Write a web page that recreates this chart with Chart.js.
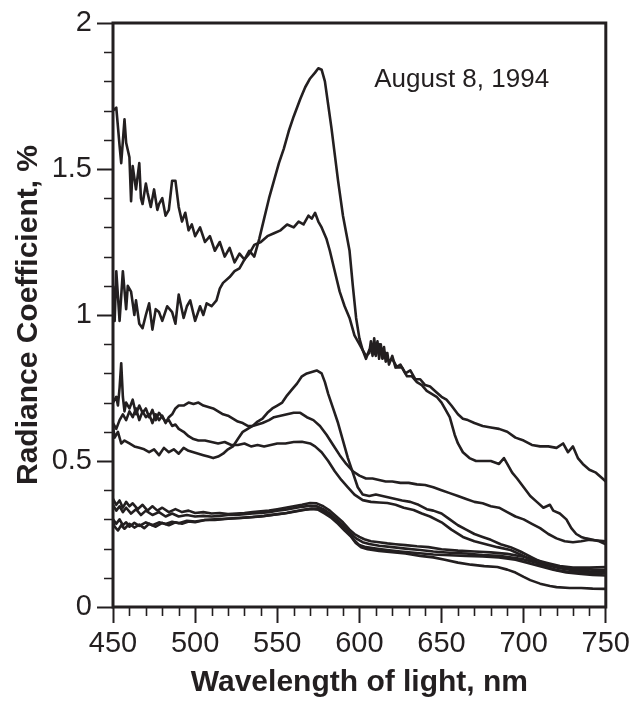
<!DOCTYPE html>
<html>
<head>
<meta charset="utf-8">
<script src="https://cdn.jsdelivr.net/npm/chart.js@4/dist/chart.umd.min.js"></script>
<style>
html,body{margin:0;padding:0;background:#fff;}
#wrap{width:634px;height:704px;position:relative;}
</style>
</head>
<body>
<div id="wrap"><canvas id="c" width="634" height="704"></canvas></div>
<script>
// ---- axis ticks ----
const xTickValues = [450, 500, 550, 600, 650, 700, 750];
const yTickLabels = ['0', '0.5', '1', '1.5', '2'];
const annotationText = 'August 8, 1994';

// ---- series (wavelength nm, radiance coefficient %) ----
const wlA = [450,452,454,455,457,458,460,461,462,464,466,467,468,470,471,473,475,477,478,480,482,484,486,488,490,492,494,496,498,500,503,506,509,512,515,518,521,524,527,530,533,536,539,542,545,548,551,554,557,560,564,567,570,573,575,577,579,581,583,585,587,590,592,594,596,598,600,602,604,606,607,608,609,610,611,612,613,614,615,616,617,618,620,622,625,628,631,634,637,640,643,646,650,653,656,660,663,666,670,675,680,685,690,695,700,705,710,715,720,724,727,730,733,736,740,744,748,750];
const valA = [1.70,1.71,1.58,1.52,1.67,1.59,1.54,1.39,1.51,1.43,1.52,1.40,1.38,1.45,1.42,1.37,1.43,1.36,1.38,1.40,1.34,1.36,1.46,1.46,1.37,1.32,1.35,1.29,1.31,1.27,1.30,1.25,1.27,1.22,1.25,1.20,1.23,1.18,1.21,1.19,1.22,1.20,1.26,1.33,1.40,1.46,1.52,1.57,1.63,1.68,1.74,1.78,1.81,1.83,1.845,1.84,1.80,1.72,1.64,1.55,1.46,1.34,1.28,1.22,1.10,0.99,0.92,0.88,0.86,0.87,0.91,0.86,0.92,0.87,0.91,0.85,0.90,0.86,0.89,0.84,0.87,0.83,0.86,0.82,0.83,0.80,0.81,0.78,0.78,0.76,0.755,0.74,0.72,0.71,0.69,0.66,0.645,0.64,0.63,0.62,0.615,0.61,0.60,0.58,0.57,0.555,0.55,0.55,0.545,0.56,0.53,0.55,0.51,0.49,0.47,0.46,0.44,0.43];

const wlB = [450,451,452,454,456,458,459,461,463,464,466,468,470,472,474,476,478,480,483,486,488,490,493,495,497,500,503,505,507,510,513,515,517,521,524,527,530,533,536,540,544,548,552,556,560,563,566,569,571,573,575,577,580,582,585,588,591,594,597,600,602,604,606,608,610,612,614,616,618,620,623,626,629,632,635,638,641,644,647,650,652,655,658,660,663,667,671,675,680,685,688,690,693,696,700,704,708,712,716,718,722,726,729,732,735,738,742,746,750];
const valB = [1.10,0.98,1.15,0.98,1.15,1.02,1.10,1.08,1.00,1.05,0.97,0.955,1.00,1.04,0.95,1.02,1.01,0.98,1.03,1.01,0.97,1.07,0.99,1.03,1.05,0.98,1.03,1.00,1.04,1.03,1.05,1.09,1.11,1.13,1.15,1.16,1.19,1.21,1.24,1.25,1.27,1.28,1.29,1.31,1.30,1.32,1.31,1.34,1.33,1.35,1.32,1.30,1.26,1.22,1.15,1.08,1.03,0.99,0.93,0.90,0.88,0.85,0.88,0.89,0.86,0.90,0.85,0.87,0.84,0.85,0.82,0.82,0.79,0.79,0.77,0.76,0.74,0.73,0.72,0.70,0.68,0.65,0.59,0.56,0.53,0.51,0.50,0.50,0.50,0.49,0.51,0.49,0.46,0.44,0.41,0.38,0.36,0.34,0.35,0.33,0.32,0.30,0.27,0.25,0.24,0.235,0.23,0.225,0.215];

const wlC1 = [450,451,453,455,457,460,463,466,469,472,475,478,481,484,487,490,493,496,499,502,505,508,511,514,517,520,523,526,529,532,535,538,541,544,547,550,553,556,559,562,565,568,571,574,577,579,581,584,587,590,593,596,599,602,606,610,614,618,622,626,631,636,641,645,650,655,660,665,670,675,680,686,692,698,705,712,720,728,735,742,750];
const valC1 = [0.62,0.58,0.60,0.56,0.57,0.56,0.55,0.545,0.54,0.53,0.54,0.52,0.545,0.53,0.54,0.525,0.545,0.535,0.53,0.525,0.52,0.515,0.51,0.515,0.525,0.54,0.55,0.575,0.60,0.61,0.62,0.635,0.645,0.665,0.68,0.69,0.70,0.725,0.745,0.765,0.79,0.80,0.805,0.81,0.80,0.77,0.73,0.68,0.63,0.57,0.51,0.46,0.41,0.385,0.38,0.385,0.38,0.375,0.37,0.365,0.36,0.35,0.335,0.33,0.32,0.30,0.28,0.265,0.25,0.24,0.23,0.215,0.205,0.19,0.17,0.15,0.137,0.13,0.13,0.128,0.127];

const wlC2 = [450,452,454,456,458,460,462,464,466,468,470,472,474,476,478,480,482,484,486,488,490,493,496,499,502,505,508,511,514,517,520,523,526,529,532,535,538,541,545,548,552,556,560,564,568,572,576,580,584,588,592,596,600,604,608,612,616,620,625,630,635,640,645,650,655,660,665,670,675,680,685,690,695,700,705,710,715,720,725,730,735,740,745,750];
const valC2 = [0.63,0.61,0.64,0.66,0.64,0.67,0.65,0.68,0.64,0.67,0.65,0.66,0.63,0.66,0.64,0.655,0.63,0.65,0.66,0.68,0.69,0.69,0.70,0.695,0.70,0.69,0.685,0.68,0.67,0.66,0.655,0.645,0.635,0.63,0.62,0.62,0.625,0.63,0.64,0.65,0.655,0.66,0.665,0.665,0.65,0.64,0.62,0.59,0.555,0.52,0.49,0.465,0.45,0.44,0.44,0.435,0.43,0.43,0.425,0.425,0.42,0.418,0.41,0.40,0.39,0.38,0.37,0.36,0.355,0.345,0.34,0.325,0.31,0.30,0.285,0.27,0.25,0.235,0.225,0.222,0.225,0.23,0.228,0.225];

const wlC3 = [450,452,453,454,455,456,457,458,460,462,464,466,468,470,472,474,476,478,480,482,484,486,488,490,493,496,499,502,506,510,514,518,522,526,530,534,538,542,546,550,555,560,565,570,573,577,581,585,589,593,597,602,607,612,617,622,627,633,638,643,650,656,663,670,677,684,692,698,705,712,720,728,735,742,750];
const valC3 = [0.70,0.72,0.69,0.75,0.835,0.72,0.67,0.70,0.68,0.71,0.66,0.69,0.665,0.68,0.65,0.675,0.64,0.665,0.65,0.635,0.64,0.62,0.625,0.61,0.60,0.585,0.575,0.57,0.57,0.565,0.56,0.565,0.555,0.555,0.56,0.55,0.555,0.55,0.555,0.56,0.56,0.565,0.566,0.56,0.55,0.53,0.50,0.465,0.435,0.41,0.385,0.366,0.36,0.358,0.356,0.35,0.34,0.332,0.32,0.31,0.29,0.265,0.24,0.225,0.215,0.205,0.195,0.18,0.16,0.14,0.127,0.12,0.118,0.117,0.116];

const wlD1 = [450,452,454,456,458,460,462,465,468,471,474,477,480,484,488,492,496,500,505,510,515,520,525,530,535,540,545,550,555,560,565,570,574,578,582,586,590,594,597,600,603,607,612,617,622,628,635,642,650,660,670,680,690,700,708,715,722,730,740,750];
const valD1 = [0.37,0.35,0.365,0.34,0.36,0.345,0.355,0.335,0.35,0.33,0.345,0.33,0.34,0.325,0.335,0.325,0.33,0.322,0.325,0.32,0.322,0.318,0.32,0.322,0.325,0.328,0.33,0.335,0.34,0.345,0.35,0.356,0.355,0.345,0.33,0.31,0.29,0.265,0.25,0.24,0.232,0.225,0.222,0.218,0.215,0.212,0.208,0.205,0.198,0.193,0.19,0.187,0.182,0.172,0.16,0.15,0.14,0.135,0.135,0.137];

const wlD2 = [450,452,454,456,458,461,464,467,470,474,478,482,486,490,495,500,505,510,515,520,525,530,535,540,545,550,555,560,565,570,574,578,582,586,590,594,598,602,606,612,620,628,637,645,655,665,675,685,695,700,708,715,722,730,740,750];
const valD2 = [0.35,0.33,0.345,0.325,0.34,0.32,0.335,0.315,0.33,0.315,0.325,0.31,0.32,0.31,0.315,0.31,0.312,0.31,0.312,0.315,0.315,0.318,0.32,0.322,0.325,0.33,0.333,0.338,0.343,0.347,0.345,0.335,0.32,0.30,0.28,0.255,0.235,0.222,0.216,0.21,0.205,0.20,0.195,0.19,0.186,0.183,0.178,0.175,0.168,0.163,0.152,0.142,0.133,0.126,0.122,0.12];

const wlD3 = [450,451,453,455,457,460,463,466,469,472,476,480,484,488,492,496,500,506,512,518,526,532,540,547,554,560,565,570,574,578,582,586,590,594,597,600,604,610,617,625,635,645,655,665,675,685,695,702,710,718,726,735,742,750];
const valD3 = [0.29,0.275,0.262,0.28,0.268,0.285,0.272,0.282,0.27,0.285,0.275,0.288,0.28,0.29,0.285,0.293,0.29,0.298,0.30,0.302,0.305,0.307,0.31,0.315,0.32,0.327,0.332,0.336,0.337,0.33,0.315,0.295,0.275,0.25,0.228,0.212,0.205,0.20,0.195,0.19,0.185,0.18,0.177,0.175,0.173,0.17,0.162,0.152,0.14,0.128,0.118,0.113,0.11,0.108];

const wlD4 = [450,452,454,456,458,460,463,466,470,474,478,482,486,490,495,500,506,512,520,528,535,542,550,556,562,567,571,575,579,583,587,591,595,598,601,605,612,620,628,637,645,652,660,668,676,684,690,695,700,704,710,716,720,728,735,742,750];
const valD4 = [0.30,0.285,0.30,0.28,0.29,0.275,0.288,0.278,0.29,0.28,0.29,0.284,0.292,0.287,0.295,0.293,0.298,0.298,0.302,0.305,0.308,0.312,0.318,0.322,0.328,0.333,0.336,0.333,0.32,0.305,0.285,0.262,0.24,0.218,0.205,0.198,0.192,0.188,0.183,0.175,0.17,0.162,0.152,0.145,0.14,0.137,0.128,0.118,0.103,0.092,0.08,0.072,0.068,0.065,0.065,0.063,0.062];

const seriesList = [
  [wlA, valA], [wlB, valB], [wlC1, valC1], [wlC2, valC2], [wlC3, valC3],
  [wlD1, valD1], [wlD2, valD2], [wlD3, valD3], [wlD4, valD4]
];

const INK = '#231f20';
const FONT = '"Liberation Sans", Arial, Helvetica, sans-serif';

const datasets = seriesList.map(([wl, v]) => ({
  data: wl.map((x, i) => ({x: x, y: v[i]})),
  borderColor: INK,
  borderWidth: 2.6,
  borderJoinStyle: 'round',
  pointRadius: 0,
  tension: 0,
  fill: false
}));

const decorPlugin = {
  id: 'decor',
  afterDraw(chart) {
    const ctx = chart.ctx;
    const a = chart.chartArea;
    const xs = chart.scales.x, ys = chart.scales.y;
    ctx.save();
    ctx.strokeStyle = INK;
    // minor ticks
    ctx.lineWidth = 1.6;
    ctx.beginPath();
    for (let v = 450; v <= 750; v += 10) {
      if (v % 50 === 0) continue;
      const px = Math.round(xs.getPixelForValue(v)) + 0.5;
      ctx.moveTo(px, a.bottom);
      ctx.lineTo(px, a.bottom + 9);
    }
    for (let i = 0; i <= 20; i++) {
      if (i % 5 === 0) continue;
      const py = Math.round(ys.getPixelForValue(i / 10)) + 0.5;
      ctx.moveTo(a.left - 9, py);
      ctx.lineTo(a.left, py);
    }
    ctx.stroke();
    // frame
    ctx.lineWidth = 3;
    ctx.strokeRect(a.left, a.top, a.right - a.left, a.bottom - a.top);
    // annotation
    ctx.fillStyle = INK;
    ctx.font = '26px ' + FONT;
    ctx.textAlign = 'left';
    ctx.textBaseline = 'alphabetic';
    ctx.fillText(annotationText, xs.getPixelForValue(609), ys.getPixelForValue(1.781));
    ctx.restore();
  }
};

new Chart(document.getElementById('c'), {
  type: 'line',
  data: { datasets },
  plugins: [decorPlugin],
  options: {
    responsive: false,
    animation: false,
    devicePixelRatio: 1,
    layout: { padding: { left: 0, top: 23, right: 28, bottom: 0 } },
    plugins: { legend: { display: false }, tooltip: { enabled: false } },
    scales: {
      x: {
        type: 'linear',
        min: 450, max: 750,
        afterFit: s => { s.height = 97; },
        afterBuildTicks: s => { s.ticks = xTickValues.map(v => ({value: v})); },
        border: { display: false },
        grid: { drawOnChartArea: false, drawTicks: true, tickLength: 16, tickColor: INK, tickWidth: 2 },
        ticks: { color: INK, font: { family: FONT, size: 29 }, padding: 4, maxRotation: 0, autoSkip: false,
                 callback: v => String(v) },
        title: { display: true, text: 'Wavelength of light, nm', color: INK,
                 font: { family: FONT, size: 30, weight: 'bold', lineHeight: 1.2 }, padding: { top: 0, bottom: 3 } }
      },
      y: {
        type: 'linear',
        min: 0, max: 2,
        afterFit: s => { s.width = 113; },
        afterBuildTicks: s => { s.ticks = yTickLabels.map(t => ({value: parseFloat(t)})); },
        border: { display: false },
        grid: { drawOnChartArea: false, drawTicks: true, tickLength: 16, tickColor: INK, tickWidth: 2 },
        ticks: { color: INK, font: { family: FONT, size: 29 }, padding: 5,
                 callback: (v, i) => yTickLabels[i] },
        title: { display: true, text: 'Radiance Coefficient, %', color: INK,
                 font: { family: FONT, size: 30, weight: 'bold', lineHeight: 1.2 }, padding: { top: 11, bottom: 0 } }
      }
    }
  }
});
</script>
</body>
</html>
